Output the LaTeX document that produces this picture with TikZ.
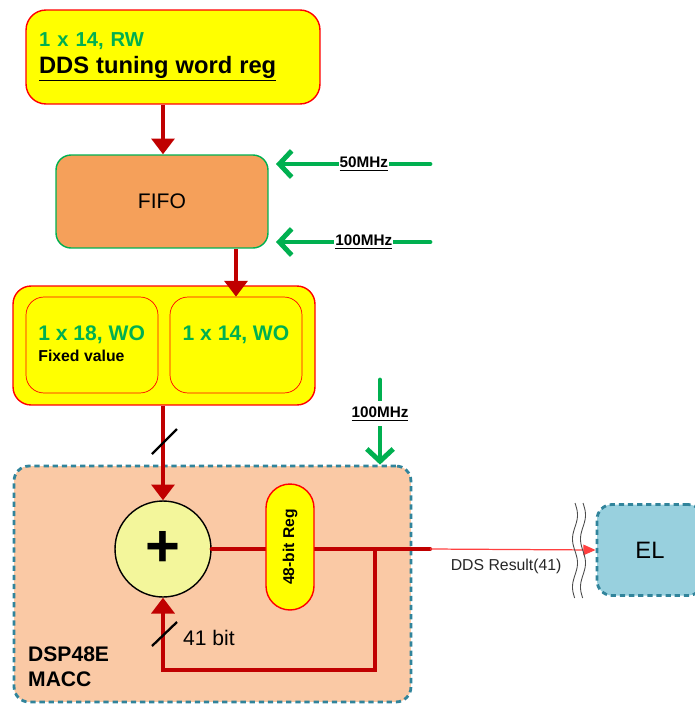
\documentclass[tikz,border=0pt]{standalone}
\usepackage{fontspec}
\setmainfont{Liberation Sans}
\usetikzlibrary{arrows.meta,positioning,calc}
\definecolor{regyellow}{RGB}{255,255,0}
\definecolor{regred}{RGB}{255,0,0}
\definecolor{txtgreen}{RGB}{0,176,80}
\definecolor{wirered}{RGB}{192,0,0}
\definecolor{fifoorange}{RGB}{245,160,90}
\definecolor{dspfill}{RGB}{250,201,165}
\definecolor{dashteal}{RGB}{49,132,155}
\definecolor{elblue}{RGB}{152,208,222}
\definecolor{addfill}{RGB}{243,246,155}
\newcommand{\fs}[1]{\fontsize{#1}{\fpeval{#1*1.2}}\selectfont}

\begin{document}
\begin{tikzpicture}[x=0.02cm,y=-0.02cm,
  every node/.style={font=\fs{12}},
  reg/.style={draw=regred,thick,fill=regyellow,rounded corners=0.4cm},
  fifobox/.style={draw=txtgreen,thick,fill=fifoorange,rounded corners=0.3cm,minimum width=4.24cm,minimum height=1.86cm},
  dashbox/.style={draw=dashteal,line width=1.6pt,dash pattern=on 3pt off 2.2pt,rounded corners=0.3cm},
  wire/.style={wirered,line width=2.4pt},
  arr/.style={wire,-{Triangle[length=9pt,width=13pt]}},
  clk/.style={txtgreen,line width=2.8pt,line cap=round,-{Straight Barb[length=7pt,width=15pt,line width=2.8pt]}},
  clklabel/.style={font=\fs{8.7}\bfseries,text=black,fill=white,inner sep=0.5pt},
  slash/.style={black,line width=1.3pt}]
\useasboundingbox (0,0) rectangle (694,704);

% registers from the host side
\node[reg,minimum width=5.88cm,minimum height=1.88cm,text width=5.36cm,align=left,inner xsep=0.26cm] (tw) at (173,57)
  {{\fs{11.5}\bfseries\color{txtgreen}1 x 14, RW}\\[1pt]{\fs{13.5}\bfseries\underline{DDS tuning word reg}}};
\node[fifobox] (fifo) at (162,201.5) {FIFO};
\node[reg,rounded corners=0.36cm,minimum width=6.04cm,minimum height=2.38cm] (wo) at (164,345.5) {};
\node[reg,thin,rounded corners=0.36cm,minimum width=2.64cm,minimum height=1.92cm] (fx) at (92,345) {};
\node[reg,thin,rounded corners=0.36cm,minimum width=2.64cm,minimum height=1.92cm] (wofourteen) at (236,345) {};
\node[anchor=west,inner sep=0pt,font=\fs{12}\bfseries,text=txtgreen] (fxlabel) at (38,335) {1 x 18, WO};
\node[anchor=north west,inner sep=0pt,font=\fs{9}\bfseries] at ([yshift=-3pt]fxlabel.south west) {Fixed value};
\node[inner sep=0pt,font=\fs{12}\bfseries,text=txtgreen] (wolabel) at (236,335) {1 x 14, WO};

% DSP48E slice
\node[dashbox,fill=dspfill,minimum width=7.94cm,minimum height=4.72cm] (dsp) at (212.5,584) {};
\node[font=\fs{12}\bfseries,align=left,anchor=west] (macc) at (22,667) {DSP48E\\MACC};
\node[circle,draw=black,thick,fill=addfill,minimum size=1.92cm,inner sep=0pt,font=\fs{34}\bfseries] (add) at (163,549) {+};
\coordinate (br) at (375,549);
\coordinate (out) at (430,549);
\draw[wire,line cap=round] (add.east) -- (out);
\node[reg,rounded corners=0.48cm,minimum width=0.96cm,minimum height=2.52cm] (acc) at (290,547) {};
\node[rotate=90,font=\fs{8.9}\bfseries] at (acc) {48-bit Reg};

% event logic
\node[dashbox,fill=elblue,minimum width=2.12cm,minimum height=1.82cm,font=\fs{13.5}] (el) at (650,550) {EL};

% data path
\draw[arr] (tw.south -| 163,0) -- (fifo.north -| 163,0);
\draw[arr] (fifo.south -| 236,0) -- (wofourteen.north);
\draw[arr] (wo.south -| add.north) -- (add.north);
\draw[slash] (152,454) -- (177,429);
\draw[arr] (br) |- (163,670) -- (add.south);
\draw[slash] (152,646) -- (177,622);
\node[anchor=west] at (177,638) {41 bit};
\draw[regred!75!white,line width=0.7pt,-{Triangle[length=7pt,width=6pt]}] (out) -- (el.west)
  node[pos=0.46,below=2pt,black!85,font=\fs{9}] {DDS Result(41)};
\foreach \dx in {575,583}
  \draw[black!70,line width=0.5pt] plot[domain=503:598,samples=50,variable=\t] ({\dx+2.5*sin((\t-503)*7.5)},\t);

% clocks
\coordinate (cfifty) at (430,164);
\coordinate (chundred) at (430,242);
\coordinate (cdsp) at (380,380);
\draw[clk] (cfifty) -- (276,164) node[pos=0.43,clklabel] {\underline{50MHz}};
\draw[clk] (chundred) -- (276,242) node[pos=0.43,clklabel] {\underline{100MHz}};
\draw[clk] (cdsp) -- (cdsp |- dsp.north) node[pos=0.4,clklabel,inner ysep=3pt] {\underline{100MHz}};
\end{tikzpicture}
\end{document}
